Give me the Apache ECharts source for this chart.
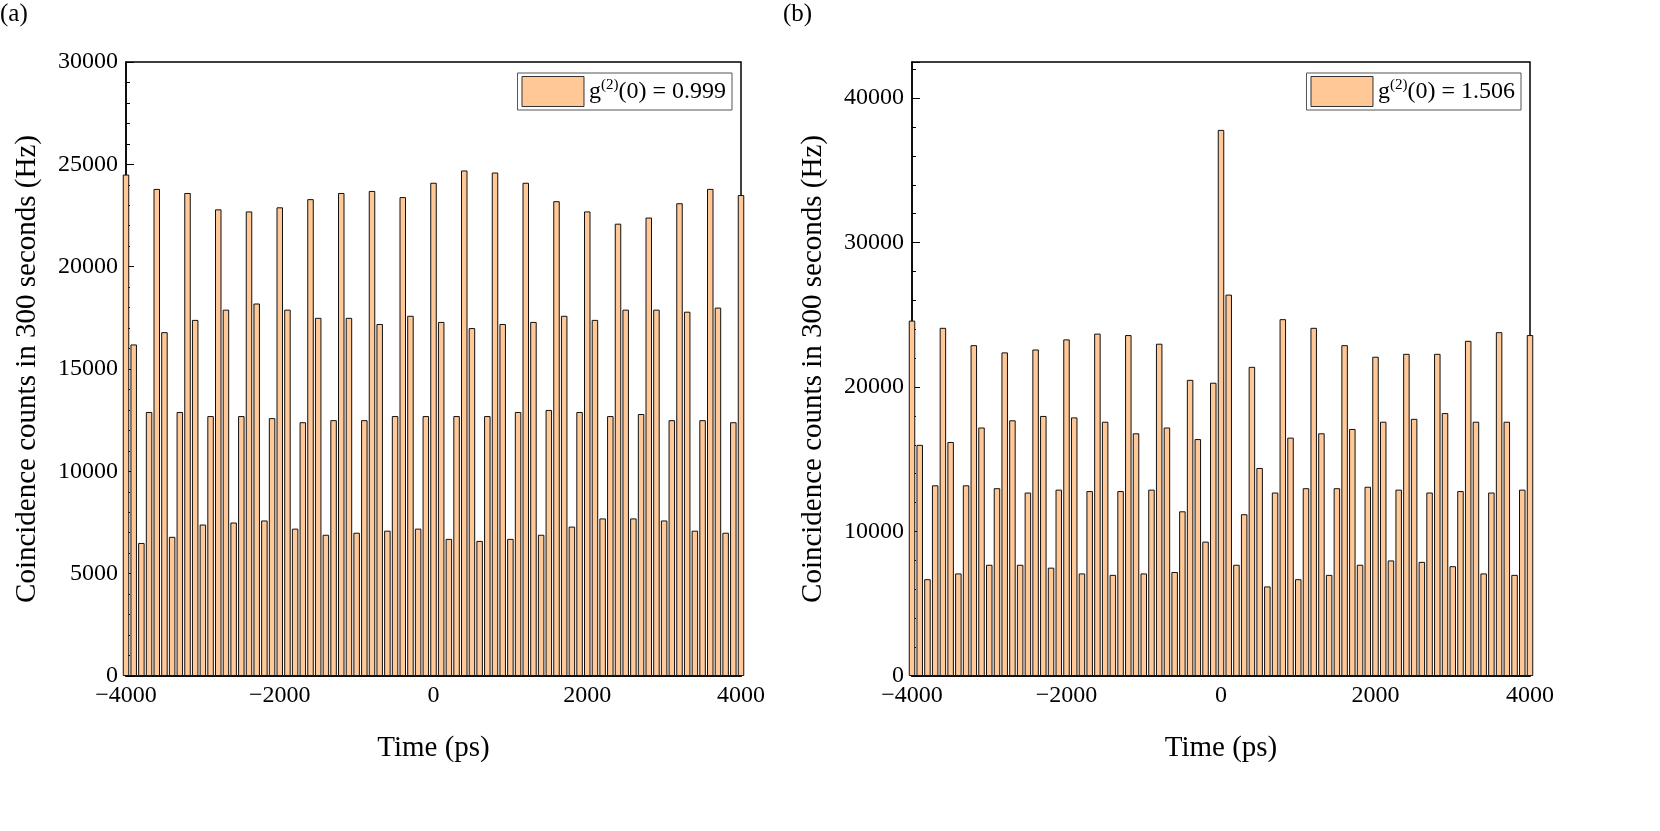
<!DOCTYPE html>
<html><head><meta charset="utf-8">
<script src="https://cdn.jsdelivr.net/npm/echarts@6/dist/echarts.min.js"></script>
<style>html,body{margin:0;padding:0;background:#fff}#c{width:1660px;height:831px}</style>
</head><body><div id="c"></div>
<script>
const times = [];
for (let t = -4000; t <= 4000; t += 100) times.push(t);
const countsA = [
24500,16200,6500,12900, 23800,16800,6800,12900, 23600,17400,7400,12700, 22800,17900,7500,12700,
22700,18200,7600,12600, 22900,17900,7200,12400, 23300,17500,6900,12500, 23600,17500,7000,12500,
23700,17200,7100,12700, 23400,17600,7200,12700, 24100,17300,6700,12700, 24700,17000,6600,12700,
24600,17200,6700,12900, 24100,17300,6900,13000, 23200,17600,7300,12900, 22700,17400,7700,12700,
22100,17900,7700,12800, 22400,17900,7600,12500, 23100,17800,7100,12500, 23800,18000,7000,12400,
23500];
const countsB = [
24600,16000,6700,13200, 24100,16200,7100,13200, 22900,17200,7700,13000, 22400,17700,7700,12700,
22600,18000,7500,12900, 23300,17900,7100,12800, 23700,17600,7000,12800, 23600,16800,7100,12900,
23000,17200,7200,11400, 20500,16400,9300,20300, 37800,26400,7700,11200, 21400,14400,6200,12700,
24700,16500,6700,13000, 24100,16800,7000,13000, 22900,17100,7700,13100, 22100,17600,8000,12900,
22300,17800,7900,12700, 22300,18200,7600,12800, 23200,17600,7100,12700, 23800,17600,7000,12900,
23600];
const legendA = 'g(2)(0) = 0.999', legendB = 'g(2)(0) = 1.506';
const yTitle = 'Coincidence counts in 300 seconds (Hz)', xTitle = 'Time (ps)';

const F = 'Liberation Serif';
const chart = echarts.init(document.getElementById('c'));
function xAx(i){return {type:'value',gridIndex:i,min:-4000,max:4000,interval:2000,
  name:xTitle,nameLocation:'middle',nameGap:58,nameTextStyle:{fontFamily:F,fontSize:29,color:'#000'},
  axisLine:{onZero:false,lineStyle:{color:'#000',width:1.5}},axisTick:{inside:true,length:8,lineStyle:{color:'#000'}},
  minorTick:{show:true,splitNumber:2,length:4,lineStyle:{color:'#000'}},
  axisLabel:{fontFamily:F,fontSize:24,color:'#000',margin:8,formatter:v=>String(v).replace('-','\u2212')},
  splitLine:{show:false}};}
function yAx(i,max,intv,minor){return {type:'value',gridIndex:i,min:0,max:max,interval:intv,
  name:yTitle,nameLocation:'middle',nameGap:i?84:84,nameTextStyle:{fontFamily:F,fontSize:29,color:'#000'},
  axisLine:{show:true,onZero:false,lineStyle:{color:'#000',width:1.5}},axisTick:{inside:true,length:8,lineStyle:{color:'#000'}},
  minorTick:{show:true,splitNumber:minor,length:4,lineStyle:{color:'#000'}},
  axisLabel:{fontFamily:F,fontSize:24,color:'#000',margin:8,showMaxLabel:max%intv===0,formatter:v=>(v%intv===0?String(v):'')},
  splitLine:{show:false}};}
function ser(i,vals,name){return {type:'bar',name:name,xAxisIndex:i,yAxisIndex:i,barWidth:6.5,
  data:times.map((t,k)=>[t,vals[k]]),itemStyle:{color:'#FFC896',borderColor:'#111',borderWidth:1},
  emphasis:{disabled:true},animation:false};}
const rich={s:{fontFamily:F,fontSize:15,verticalAlign:'top',padding:[0,0,12,0],color:'#000'},n:{fontFamily:F,fontSize:24,color:'#000'}};
const fmt=n=>'{n|g}{s|(2)}{n|'+n.slice(4)+'}';
const leg=(name,right)=>({data:[{name:name,icon:'rect'}],right:right,top:73,itemWidth:62,itemHeight:30,itemGap:0,
  borderColor:'#555',borderWidth:1,borderRadius:0,padding:[3,6,3,4],
  itemStyle:{borderColor:'#333',borderWidth:1},formatter:fmt,textStyle:{rich:rich},selectedMode:false});
chart.setOption({
  animation:false,
  grid:[{left:126,width:615,top:62,height:614,show:true,borderColor:'#000',borderWidth:1.5},
        {left:912,width:618,top:62,height:614,show:true,borderColor:'#000',borderWidth:1.5}],
  xAxis:[xAx(0),xAx(1)],
  yAxis:[yAx(0,30000,5000,5),yAx(1,42500,10000,5)],
  legend:[leg(legendA,1660-732),leg(legendB,1660-1521)],
  series:[ser(0,countsA,legendA),ser(1,countsB,legendB)],
  graphic:[{type:'text',left:0,top:2,style:{text:'(a)',font:'25px "Liberation Serif"',fill:'#000'}},
           {type:'text',left:783,top:2,style:{text:'(b)',font:'25px "Liberation Serif"',fill:'#000'}}]
});
</script></body></html>
